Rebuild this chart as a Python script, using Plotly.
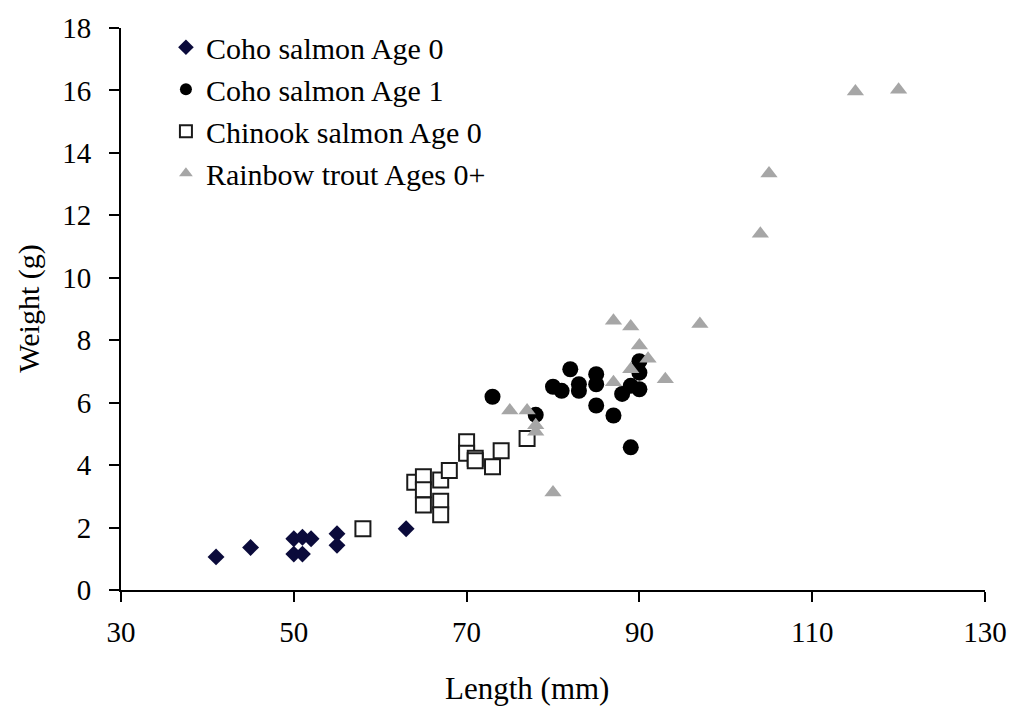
import plotly.graph_objects as go

coho0_len = [41, 45, 50, 51, 52, 50, 51, 55, 55, 63]
coho0_wt = [1.06, 1.36, 1.64, 1.69, 1.64, 1.15, 1.15, 1.80, 1.43, 1.96]

coho1_len = [73, 78, 80, 81, 82, 83, 83, 85, 85, 85, 87, 88, 89, 90, 90, 90, 89]
coho1_wt = [6.19, 5.61, 6.51, 6.38, 7.07, 6.59, 6.38, 6.91, 6.59, 5.91, 5.59, 6.28, 6.54, 6.43, 6.96, 7.33, 4.57]

chinook_len = [58, 64, 65, 65, 65, 67, 67, 67, 68, 70, 70, 71, 71, 73, 74, 77]
chinook_wt = [1.96, 3.45, 3.63, 3.21, 2.72, 3.52, 2.84, 2.41, 3.83, 4.75, 4.38, 4.22, 4.14, 3.95, 4.46, 4.85]

rainbow_len = [75, 77, 78, 78, 80, 87, 87, 89, 89, 90, 91, 93, 97, 104, 105, 115, 120]
rainbow_wt = [5.75, 5.75, 5.28, 5.07, 3.12, 8.62, 6.65, 8.44, 7.07, 7.83, 7.41, 6.75, 8.52, 11.41, 13.34, 15.97, 16.02]

x_ticks = [30, 50, 70, 90, 110, 130]
y_ticks = [0, 2, 4, 6, 8, 10, 12, 14, 16, 18]

FONT = "Liberation Serif"

fig = go.Figure()
fig.add_trace(go.Scatter(x=coho0_len, y=coho0_wt, mode="markers", name="Coho salmon Age 0",
                         marker=dict(symbol="diamond", size=13, color="#0b0b3b", line=dict(width=0))))
fig.add_trace(go.Scatter(x=coho1_len, y=coho1_wt, mode="markers", name="Coho salmon Age 1",
                         marker=dict(symbol="circle", size=16, color="#000000", line=dict(width=0))))
fig.add_trace(go.Scatter(x=chinook_len, y=chinook_wt, mode="markers", name="Chinook salmon Age 0",
                         marker=dict(symbol="square", size=15, color="#ffffff", line=dict(width=2, color="#1a1a1a"))))
fig.add_trace(go.Scatter(x=rainbow_len, y=rainbow_wt, mode="markers", name="Rainbow trout Ages 0+",
                         marker=dict(symbol="triangle-up", size=15, color="#a6a6a6", line=dict(width=0))))

fig.update_layout(
    width=1019, height=709,
    margin=dict(l=121, r=28, t=21, b=119),
    paper_bgcolor="white", plot_bgcolor="white",
    font=dict(family=FONT, size=29, color="black"),
    showlegend=True,
    legend=dict(x=0.052, y=1.012, xanchor="left", yanchor="top", bgcolor="rgba(0,0,0,0)",
                font=dict(family=FONT, size=30), itemsizing="constant", borderwidth=0),
    xaxis=dict(range=[30, 130], tickvals=x_ticks, ticktext=[str(v) for v in x_ticks],
               showgrid=False, zeroline=False, showline=True, linecolor="black", linewidth=2,
               ticks="outside", ticklen=10, tickwidth=2, tickcolor="black",
               ticklabelstandoff=5, tickfont=dict(family=FONT, size=29)),
    yaxis=dict(range=[0, 18], tickvals=y_ticks, ticktext=[str(v) for v in y_ticks],
               showgrid=False, zeroline=False, showline=True, linecolor="black", linewidth=2,
               ticks="outside", ticklen=10, tickwidth=2, tickcolor="black",
               ticklabelstandoff=12, tickfont=dict(family=FONT, size=29)),
    annotations=[
        dict(text="Length (mm)", xref="paper", yref="paper", x=(530 - 121) / 870, y=-(690 - 590) / 570,
             xanchor="center", yanchor="middle", showarrow=False, font=dict(family=FONT, size=31)),
        dict(text="Weight (g)", xref="paper", yref="paper", x=-(121 - 28) / 870, y=0.5,
             xanchor="center", yanchor="middle", showarrow=False, textangle=-90,
             font=dict(family=FONT, size=30)),
    ],
)

fig.write_html("out.html")
